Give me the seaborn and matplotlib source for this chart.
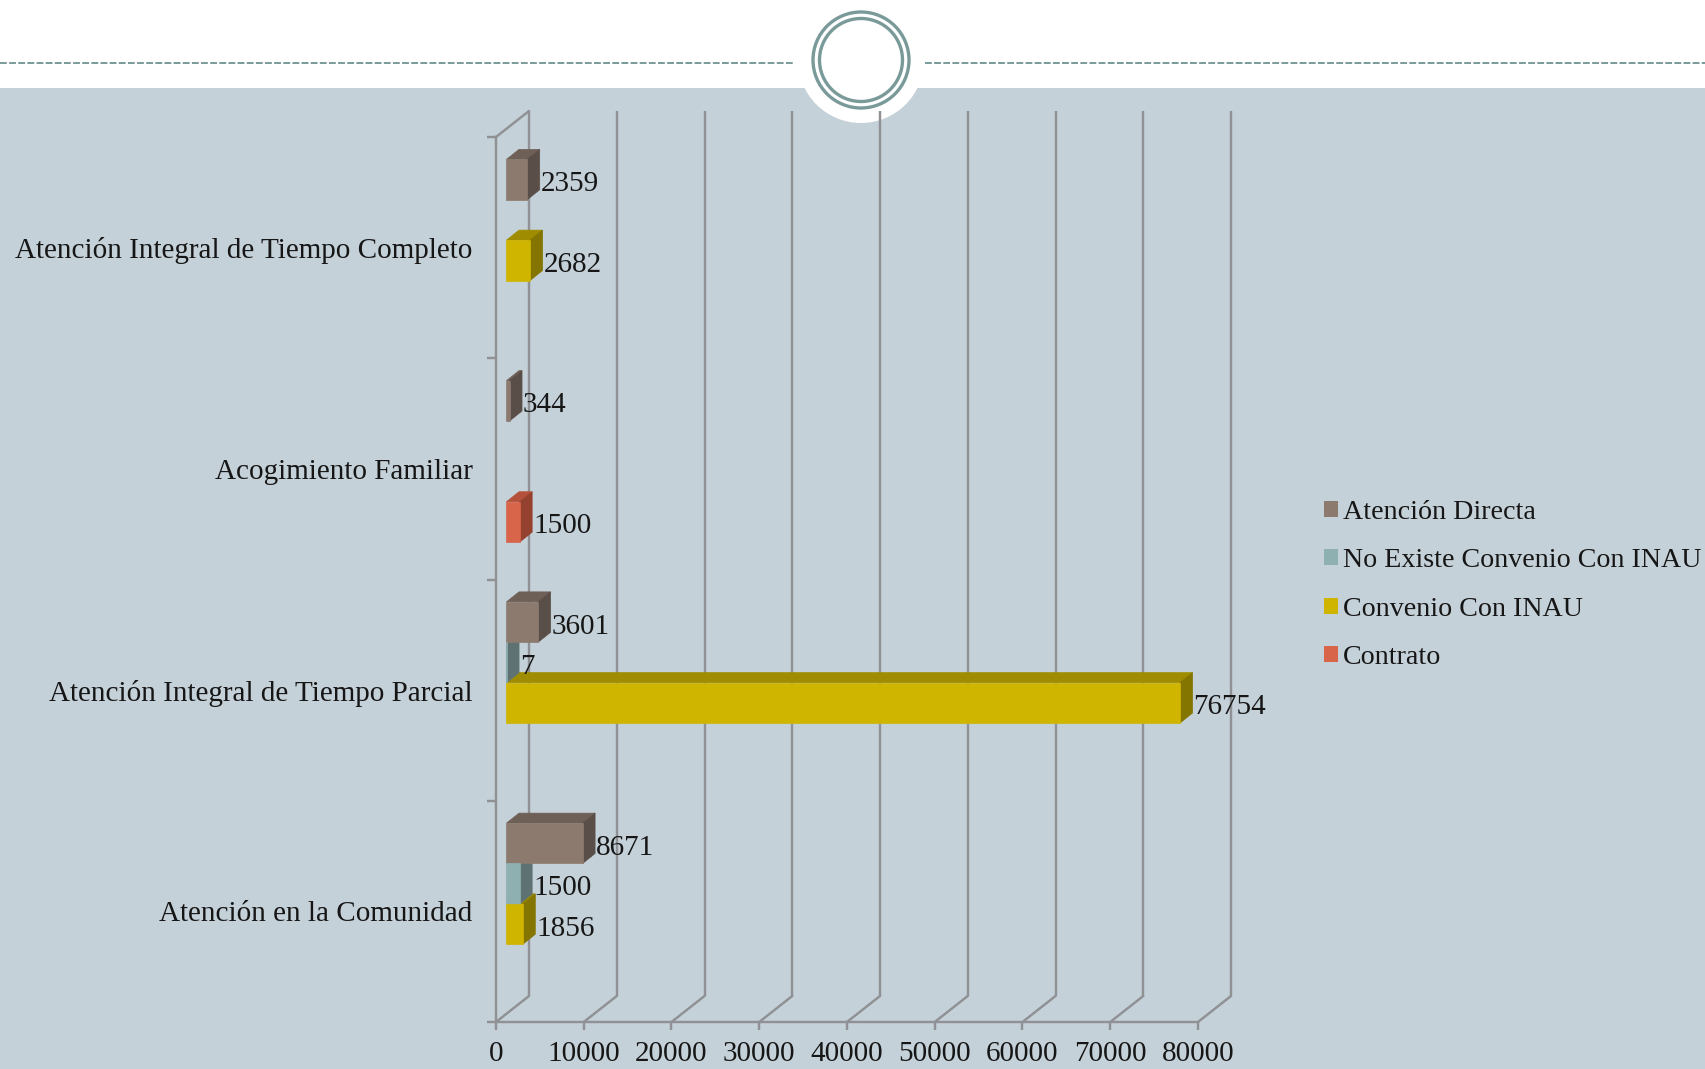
import numpy as np
import pandas as pd
import seaborn as sns
import matplotlib.pyplot as plt
from matplotlib.lines import Line2D
from matplotlib.patches import Circle, Patch, Polygon, Rectangle
from matplotlib.transforms import Affine2D, IdentityTransform

# Datos
categorias = [
    "Atención Integral de Tiempo Completo",
    "Acogimiento Familiar",
    "Atención Integral de Tiempo Parcial",
    "Atención en la Comunidad",
]
series = ["Atención Directa", "No Existe Convenio Con INAU", "Convenio Con INAU", "Contrato"]
atencion_directa = [2359, 344, 3601, 8671]
no_existe_convenio = [np.nan, np.nan, 7, 1500]
convenio_inau = [2682, np.nan, 76754, 1856]
contrato = [np.nan, 1500, np.nan, np.nan]
ticks_x = [0, 10000, 20000, 30000, 40000, 50000, 60000, 70000, 80000]

# Colores: frente, cara superior y cara lateral
frente = ["#8C7A6E", "#8FB0B1", "#CFB500", "#D8654A"]
arriba = ["#6F6057", "#6F8A8B", "#A08C00", "#B5503A"]
lateral = ["#5A4E48", "#5E7274", "#847400", "#95412F"]
GRIS = "#8F9194"
FONDO = "#C5D1D8"
VERDE = "#7A9A9A"
TEXTO = "#161616"

W, H = 1706, 1069
LW = 1.75

sns.set_theme(style="white")
plt.rcParams["font.family"] = ["Liberation Serif", "DejaVu Serif"]

fig = plt.figure(figsize=(W / 100, H / 100), dpi=100, facecolor="white")

# Fondo de la diapositiva, en pixeles
bg = fig.add_axes([0, 0, 1, 1], zorder=-1)
bg.set_xlim(0, W)
bg.set_ylim(H, 0)
bg.axis("off")
bg.add_patch(Rectangle((0, 88), W, H - 88, color=FONDO, lw=0))
bg.add_patch(Circle((861, 60), 63, color="white", lw=0))
bg.plot([0, 795], [63, 63], color=VERDE, lw=1.4, ls=(0, (3.5, 1.2)))
bg.plot([925, W], [63, 63], color=VERDE, lw=1.4, ls=(0, (3.5, 1.2)))
bg.add_patch(Circle((861, 60), 48, fc="none", ec=VERDE, lw=2.4))
bg.add_patch(Circle((861, 60), 41.5, fc="none", ec=VERDE, lw=2.4))

# Plano frontal del eje: x de 496 a 1198, y de 137 a 1022
ax = fig.add_axes([496 / W, 1 - 1022 / H, 702 / W, 885 / H], facecolor="none")

df = pd.DataFrame(
    {
        "categoria": categorias,
        series[0]: atencion_directa,
        series[1]: no_existe_convenio,
        series[2]: convenio_inau,
        series[3]: contrato,
    }
)
largo = df.melt(id_vars="categoria", var_name="serie", value_name="valor").dropna()

sns.barplot(
    data=largo,
    x="valor",
    y="categoria",
    hue="serie",
    order=categorias,
    hue_order=series,
    palette=dict(zip(series, frente)),
    width=0.73,
    gap=0,
    saturation=1,
    errorbar=None,
    legend=False,
    ax=ax,
)
ax.set_xlim(0, 80000)
ax.set_ylim(3.5, -0.5)
ax.set_xlabel("")
ax.set_ylabel("")

# Ejes
ax.set_xticks(ticks_x)
ax.set_xticklabels([str(t) for t in ticks_x])
ax.set_yticks(range(len(categorias)))
ax.set_yticks(np.arange(-0.5, 4), minor=True)
ax.tick_params(axis="x", length=6, width=LW, color=GRIS, pad=8, labelsize=21, labelcolor=TEXTO, bottom=True)
ax.tick_params(axis="y", which="major", length=0, pad=17, labelsize=21, labelcolor=TEXTO)
ax.tick_params(axis="y", which="minor", length=6.5, width=LW, color=GRIS, left=True)
sns.despine(ax=ax)
for lado in ["left", "bottom"]:
    ax.spines[lado].set_color(GRIS)
    ax.spines[lado].set_linewidth(LW)

# Pared del fondo y diagonales del suelo
FONDO_DX, FONDO_DY = 33, 26
trans_fondo = ax.transData + Affine2D().translate(FONDO_DX, FONDO_DY)
ax.vlines(ticks_x, -0.5, 3.5, color=GRIS, lw=LW, transform=trans_fondo, zorder=1, clip_on=False)
for t, y in [(t, 3.5) for t in ticks_x] + [(0, -0.5)]:
    x0, y0 = ax.transData.transform((t, y))
    ax.add_line(
        Line2D([x0, x0 + FONDO_DX], [y0, y0 + FONDO_DY], color=GRIS, lw=LW,
               transform=IdentityTransform(), zorder=1, clip_on=False)
    )

# Efecto 3D: se desplaza cada barra y se le agregan sus caras.
# Los techos van debajo de todo: la barra de arriba apoya sobre la de abajo y los tapa.
BAR_X, BAR_Y = 10.5, 7.5
PROF_X, PROF_Y = 12.5, 10
trans_barra = ax.transData + Affine2D().translate(BAR_X, BAR_Y)

for i, contenedor in enumerate(ax.containers):
    for barra in contenedor:
        ancho = barra.get_width()
        y_top = barra.get_y()
        y_bot = y_top + barra.get_height()
        barra.set_transform(trans_barra)
        barra.set_edgecolor(frente[i])
        barra.set_linewidth(0.5)
        barra.set_zorder(6)
        barra.set_clip_on(False)

        # Esquinas del frente en pixeles
        (xa, ya), (xb, yb) = trans_barra.transform([(0, y_top), (ancho, y_bot)])
        techo = [(xa, ya), (xb, ya), (xb + PROF_X, ya + PROF_Y), (xa + PROF_X, ya + PROF_Y)]
        lado = [(xb, ya), (xb + PROF_X, ya + PROF_Y), (xb + PROF_X, yb + PROF_Y), (xb, yb)]
        ax.add_patch(Polygon(techo, fc=arriba[i], ec=arriba[i], lw=0.5,
                             transform=IdentityTransform(), zorder=3, clip_on=False))
        ax.add_patch(Polygon(lado, fc=lateral[i], ec=lateral[i], lw=0.5,
                             transform=IdentityTransform(), zorder=5, clip_on=False))

        ax.annotate(
            f"{ancho:.0f}",
            xy=(ancho, (y_top + y_bot) / 2),
            xytext=(BAR_X + PROF_X + 1, BAR_Y - 4.5),
            textcoords="offset pixels",
            ha="left",
            va="center",
            fontsize=21,
            color=TEXTO,
            zorder=20,
            annotation_clip=False,
        )

# Leyenda
manejadores = [Patch(fc=c, ec="none", label=s) for c, s in zip(frente, series)]
fig.legend(
    handles=manejadores,
    loc="center left",
    bbox_to_anchor=(1324 / W, 1 - 585 / H),
    bbox_transform=fig.transFigure,
    frameon=False,
    fontsize=20.2,
    labelcolor=TEXTO,
    handlelength=0.5,
    handleheight=0.5,
    handletextpad=0.18,
    labelspacing=0.83,
    borderpad=0,
    borderaxespad=0,
)

fig.savefig("out.png", dpi=100)
plt.close(fig)
